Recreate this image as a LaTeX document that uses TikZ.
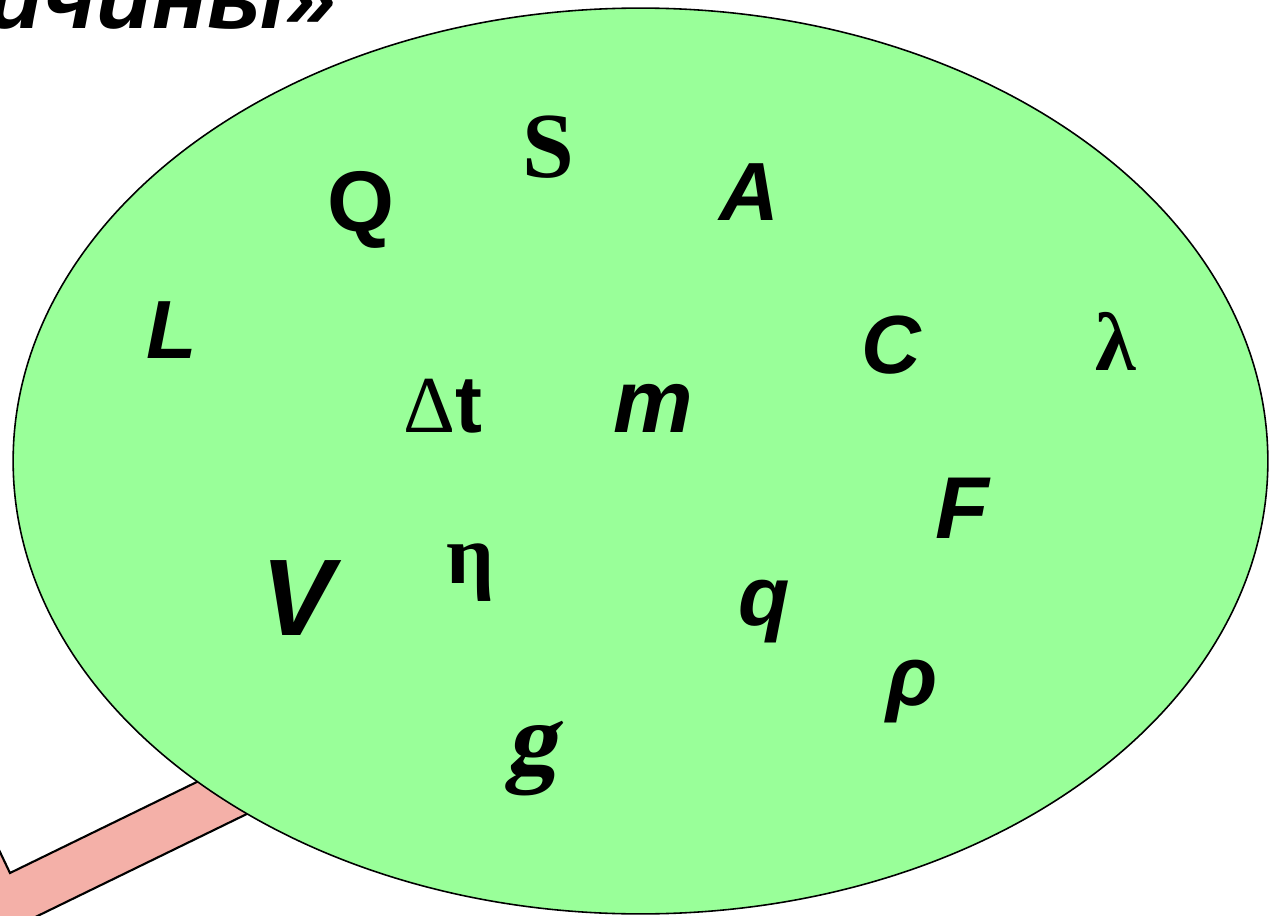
\documentclass[tikz,border=0pt]{standalone}
\usepackage{fontspec}
\usetikzlibrary{shapes.geometric}
\setmainfont{Liberation Serif}
\newfontfamily\arialf{Liberation Sans}
\newfontfamily\timesf{Liberation Serif}
\newfontfamily\gfont[FakeSlant=0.2]{Liberation Serif}
\definecolor{ovalgreen}{HTML}{99FF99}
\definecolor{arrowpink}{HTML}{F4B0A8}
\tikzset{
  sym/.style={anchor=base, inner sep=0pt, text=black},
  sansbi/.style={sym, font=\arialf\bfseries\itshape\fontsize{#1}{#1}\selectfont},
  sansb/.style={sym, font=\arialf\bfseries\fontsize{#1}{#1}\selectfont},
  serifb/.style={sym, font=\timesf\bfseries\fontsize{#1}{#1}\selectfont},
  slantg/.style={sym, font=\gfont\bfseries\fontsize{#1}{#1}\selectfont},
}
\begin{document}
\begin{tikzpicture}[x=0.02cm, y=-0.02cm]
\useasboundingbox (0,0) rectangle (1269,916);
\clip (0,0) rectangle (1269,916);
% arrow
\draw[fill=arrowpink, line width=1.2pt, line join=miter]
  (333,772) -- (-100,983) -- (-200,1100) -- (-200,800) -- (-40,768) -- (10,873) -- (285,739) -- cycle;
% oval
\node[draw=black, line width=0.9pt, fill=ovalgreen, ellipse, minimum width=25.1cm, minimum height=18.12cm, inner sep=0pt] (oval) at (640.5,461) {};
% title
\node[sansbi=52pt, anchor=base east] (title) at (337,29) {величины»};
% symbols
\node[serifb=53pt] (S) at (548,177) {S};
\node[sansb=49pt] (Q) at (361,231) {Q};
\node[sansbi=47pt] (A) at (749,220) {A};
\node[sansbi=47pt] (L) at (172,358) {L};
\node[sansbi=47pt] (C) at (891,373) {C};
\node[serifb=47pt] (lam) at (1116,370) {λ};
\node[sym, font=\fontsize{46pt}{46pt}\selectfont] (dt) at (443,432) {{\timesf Δ}{\arialf\bfseries t}};
\node[sansbi=51pt] (m) at (653,432) {m};
\node[sansbi=50pt] (F) at (962,538) {F};
\node[sansbi=62pt] (V) at (298,635) {V};
\node[serifb=48pt] (eta) at (470,583) {η};
\node[sansbi=48pt] (q) at (764,625) {q};
\node[sansbi=48pt] (rho) at (912,705) {ρ};
\node[slantg=58pt] (g) at (531,773) {g};
\end{tikzpicture}
\end{document}
